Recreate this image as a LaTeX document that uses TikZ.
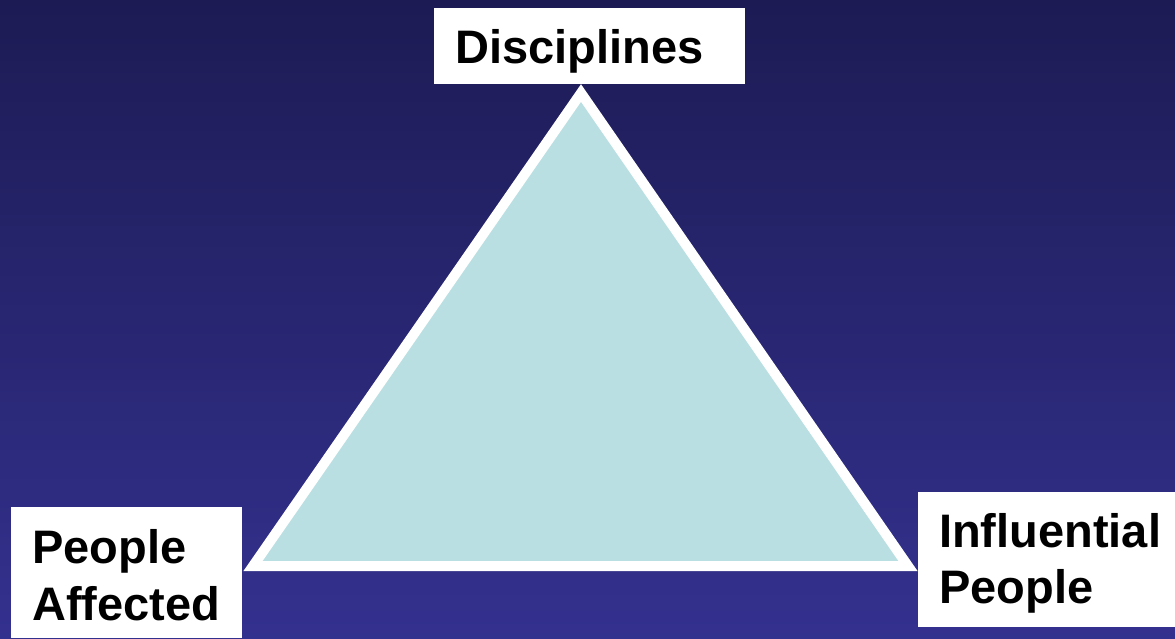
\documentclass[tikz,border=0pt]{standalone}
\usepackage{fontspec}
\setmainfont{Liberation Sans}
\definecolor{bgtop}{RGB}{29,27,84}
\definecolor{bgbot}{RGB}{51,49,142}
\definecolor{trifill}{RGB}{185,223,226}
\begin{document}
\begin{tikzpicture}[x=1pt,y=-1pt,
  labelbox/.style={fill=white,draw=none,inner sep=0pt,anchor=north west},
  labeltext/.style={font=\fontsize{47}{57}\bfseries\selectfont,inner sep=0pt,anchor=base west,align=left,text=black}]
\shade[top color=bgtop,bottom color=bgbot] (0,0) rectangle (1175,638);
\useasboundingbox (0,0) rectangle (1175,638);
% triangle
\coordinate (apex) at (581,93);
\coordinate (bl) at (253,566);
\coordinate (br) at (908,566);
\filldraw[fill=trifill,draw=white,line width=10pt,line join=miter] (apex) -- (bl) -- (br) -- cycle;
% boxes
\node[labelbox,minimum width=311pt,minimum height=76pt] (boxD) at (434,8) {};
\node[labelbox,minimum width=231pt,minimum height=131pt] (boxP) at (11,507) {};
\node[labelbox,minimum width=257pt,minimum height=135pt] (boxI) at (918,492) {};
% texts
\node[labeltext] (tD) at (455,63) {Disciplines};
\node[labeltext] (tP1) at (32,563) {People};
\node[labeltext] (tP2) at (32,620) {Affected};
\node[labeltext] (tI1) at (939,547) {Influential};
\node[labeltext] (tI2) at (939,603) {People};
\end{tikzpicture}
\end{document}
